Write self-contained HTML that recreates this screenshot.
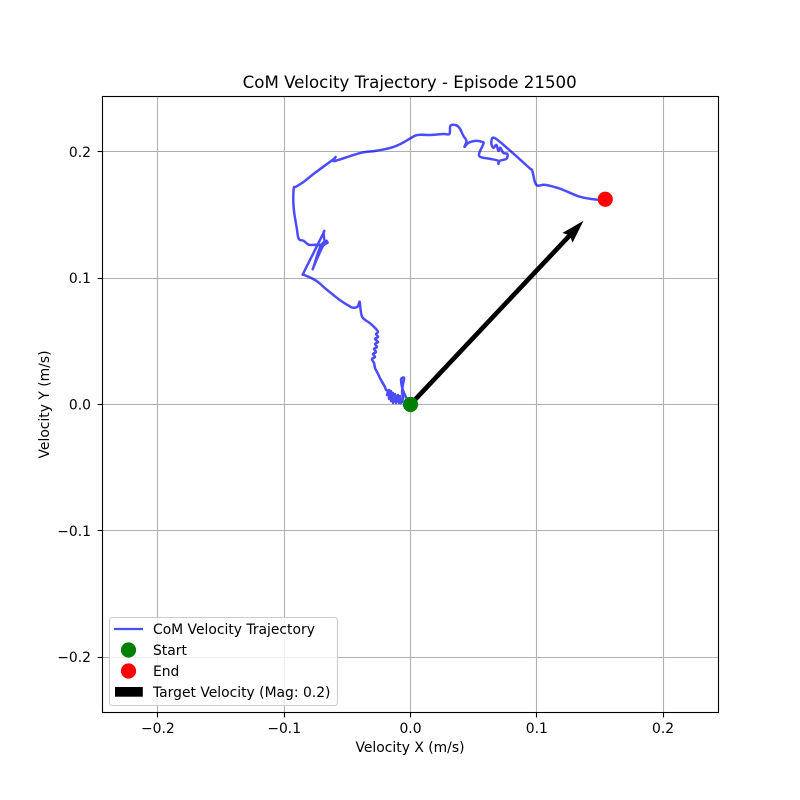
<!DOCTYPE html>
<html>
<head>
<meta charset="utf-8">
<title>CoM Velocity Trajectory</title>
<style>
html,body{margin:0;padding:0;background:#fff}
svg{display:block}
text{font-family:"DejaVu Sans",sans-serif;fill:#000}
</style>
</head>
<body>
<svg id="chart" xmlns="http://www.w3.org/2000/svg" width="800" height="800" viewBox="0 0 800 800">
  <rect x="0" y="0" width="800" height="800" fill="#fff"/>
  <g id="grid-layer"></g>
  <g id="arrow-layer"></g>
  <g id="series-layer"></g>
  <rect x="102.5" y="96.5" width="616" height="616" fill="none" stroke="#000" stroke-width="1.1"/>
  <g id="tick-layer"></g>
  <text x="409.7" y="88" font-size="16.64" text-anchor="middle">CoM Velocity Trajectory - Episode 21500</text>
  <text x="410" y="752" font-size="13.89" text-anchor="middle">Velocity X (m/s)</text>
  <text x="49" y="404.5" font-size="13.89" text-anchor="middle" transform="rotate(-90 49 404.5)">Velocity Y (m/s)</text>
  <g>
    <rect x="109.5" y="617.5" width="228" height="88" rx="3" ry="3" fill="#fff" fill-opacity="0.8" stroke="#ccc" stroke-width="1.1"/>
    <line x1="114" y1="629" x2="143" y2="629" stroke="#0000ff" stroke-opacity="0.7" stroke-width="2.2"/>
    <text x="153" y="634" font-size="13.89">CoM Velocity Trajectory</text>
    <circle cx="128.5" cy="650" r="7.6" fill="#008000"/>
    <text x="153" y="655" font-size="13.89">Start</text>
    <circle cx="128.5" cy="671" r="7.6" fill="#ff0000"/>
    <text x="153" y="676" font-size="13.89">End</text>
    <rect x="115" y="687" width="27.8" height="9.7" fill="#000"/>
    <text x="153" y="697" font-size="13.89">Target Velocity (Mag: 0.2)</text>
  </g>
</svg>
<script>
const xTicks = [-0.2, -0.1, 0, 0.1, 0.2];
const yTicks = [-0.2, -0.1, 0, 0.1, 0.2];
const tickLabels = ["\u22120.2", "\u22120.1", "0.0", "0.1", "0.2"];
const target = [0.137, 0.1455];
const vx = [0,-.0028,-.0051,-.0067,-.0075,-.0067,-.0051,-.0059,-.0067,-.0059,-.0075,-.0083,-.0091,-.0099,-.0115,-.0123,-.0139,-.0139,-.0154,-.0154,-.0170,-.0170,-.0186,-.0178,-.0194,-.0202,-.0226,-.0210,-.0242,-.0257,-.0273,-.0281,-.0289,-.0305,-.0281,-.0297,-.0273,-.0289,-.0265,-.0281,-.0257,-.0281,-.0257,-.0273,-.0257,-.0273,-.0316,-.0379,-.0395,-.0403,-.0419,-.0458,-.0490,-.0553,-.0672,-.0735,-.0791,-.0846,-.0846,-.0767,-.0688,-.0688,-.0680,-.0656,-.0696,-.0767,-.0767,-.0711,-.0664,-.0696,-.0751,-.0806,-.0846,-.0885,-.0901,-.0925,-.0925,-.0909,-.0846,-.0767,-.0617,-.0593,-.0609,-.0569,-.0395,-.0277,-.0158,-.0079,-.0008,.0055,.0158,.0261,.0308,.0316,.0356,.0387,.0419,.0443,.0427,.0458,.0514,.0569,.0577,.0545,.0553,.0632,.0696,.0696,.0704,.0759,.0767,.0735,.0711,.0696,.0680,.0656,.0640,.0664,.0791,.0941,.0964,.0996,.1067,.1186,.1344,.1486,.1542];
const vy = [0,.0044,.0091,.0139,.0194,.0210,.0210,.0162,.0099,.0051,.0012,.0067,.0012,.0075,.0012,.0083,.0012,.0091,.0028,.0107,.0044,.0115,.0075,.0107,.0115,.0139,.0178,.0154,.0210,.0242,.0273,.0289,.0329,.0360,.0376,.0400,.0416,.0440,.0455,.0479,.0495,.0519,.0535,.0558,.0574,.0598,.0640,.0688,.0751,.0814,.0775,.0767,.0783,.0822,.0917,.0972,.1004,.1028,.1043,.1202,.1360,.1360,.1296,.1281,.1249,.1091,.1091,.1257,.1296,.1265,.1265,.1265,.1296,.1312,.1399,.1557,.1708,.1723,.1763,.1826,.1937,.1960,.1929,.1937,.1992,.2008,.2032,.2063,.2103,.2134,.2134,.2142,.2142,.2206,.2213,.2190,.2127,.2087,.2040,.2071,.2087,.2079,.2063,.1992,.1960,.1945,.1929,.1905,.1929,.1945,.1984,.1992,.2032,.2008,.2055,.2032,.2071,.2111,.2008,.1873,.1850,.1739,.1739,.1708,.1644,.1621,.1625];

const NS = "http://www.w3.org/2000/svg";
const centerX = 410.5, centerY = 404.5, pxPerUnit = 1263;
function sx(v) { return centerX + v * pxPerUnit; }
function sy(v) { return centerY - v * pxPerUnit; }
function snap(p) { return Math.floor(p) + 0.5; }
function svgEl(tag) { return document.createElementNS(NS, tag); }

const gridLayer = document.getElementById("grid-layer");
const tickLayer = document.getElementById("tick-layer");
const seriesLayer = document.getElementById("series-layer");
const arrowLayer = document.getElementById("arrow-layer");

xTicks.forEach(function (t, i) {
  const p = snap(sx(t));
  const g = svgEl("line");
  
  
  g.setAttribute("x1", p); g.setAttribute("x2", p);
  g.setAttribute("y1", 96.5); g.setAttribute("y2", 712.5);
  g.setAttribute("stroke", "#b0b0b0"); g.setAttribute("stroke-width", "1.1");
  gridLayer.appendChild(g);
  const k = svgEl("line");
  
  
  k.setAttribute("x1", p); k.setAttribute("x2", p);
  k.setAttribute("y1", 712.5); k.setAttribute("y2", 717.4);
  k.setAttribute("stroke", "#000"); k.setAttribute("stroke-width", "1.1");
  tickLayer.appendChild(k);
  const l = svgEl("text");
  
  
  l.setAttribute("x", sx(t)); l.setAttribute("y", 733);
  l.setAttribute("font-size", "13.89"); l.setAttribute("text-anchor", "middle");
  l.textContent = tickLabels[i];
  tickLayer.appendChild(l);
});

yTicks.forEach(function (t, i) {
  const p = snap(sy(t));
  const g = svgEl("line");
  
  
  g.setAttribute("x1", 102.5); g.setAttribute("x2", 718.5);
  g.setAttribute("y1", p); g.setAttribute("y2", p);
  g.setAttribute("stroke", "#b0b0b0"); g.setAttribute("stroke-width", "1.1");
  gridLayer.appendChild(g);
  const k = svgEl("line");
  
  
  k.setAttribute("x1", 97.6); k.setAttribute("x2", 102.5);
  k.setAttribute("y1", p); k.setAttribute("y2", p);
  k.setAttribute("stroke", "#000"); k.setAttribute("stroke-width", "1.1");
  tickLayer.appendChild(k);
  const l = svgEl("text");
  
  
  l.setAttribute("x", 91); l.setAttribute("y", sy(t) + 5);
  l.setAttribute("font-size", "13.89"); l.setAttribute("text-anchor", "end");
  l.textContent = tickLabels[i];
  tickLayer.appendChild(l);
});

(function drawArrow() {
  const x0 = sx(0), y0 = sy(0), x1 = sx(target[0]), y1 = sy(target[1]);
  const len = Math.hypot(x1 - x0, y1 - y0);
  const ux = (x1 - x0) / len, uy = (y1 - y0) / len;
  const nx = -uy, ny = ux;
  const w = 4.7;
  function pt(a, b) { return (x0 + ux * a + nx * b).toFixed(2) + "," + (y0 + uy * a + ny * b).toFixed(2); }
  const hl = w * 5, hal = w * 4.5, hw = w * 1.5;
  const pts = [pt(0, -w / 2), pt(len - hal, -w / 2), pt(len - hl, -hw), pt(len, 0), pt(len - hl, hw), pt(len - hal, w / 2), pt(0, w / 2)];
  const a = svgEl("polygon");
  
  
  a.setAttribute("points", pts.join(" "));
  a.setAttribute("fill", "#000");
  arrowLayer.appendChild(a);
})();

function smoothPath() {
  const p = vx.map(function (v, i) { return [sx(v), sy(vy[i])]; });
  let d = "M" + p[0][0].toFixed(2) + " " + p[0][1].toFixed(2);
  for (let i = 0; i < p.length - 1; i++) {
    const a = p[Math.max(i - 1, 0)], b = p[i], c = p[i + 1], e = p[Math.min(i + 2, p.length - 1)];
    const c1x = b[0] + (c[0] - a[0]) / 6, c1y = b[1] + (c[1] - a[1]) / 6;
    const c2x = c[0] - (e[0] - b[0]) / 6, c2y = c[1] - (e[1] - b[1]) / 6;
    d += "C" + c1x.toFixed(2) + " " + c1y.toFixed(2) + " " + c2x.toFixed(2) + " " + c2y.toFixed(2) + " " + c[0].toFixed(2) + " " + c[1].toFixed(2);
  }
  return d;
}

const path = svgEl("path");


path.setAttribute("d", smoothPath());
path.setAttribute("fill", "none");
path.setAttribute("stroke", "#0000ff");
path.setAttribute("stroke-opacity", "0.7");
path.setAttribute("stroke-width", "2.5");
path.setAttribute("stroke-linejoin", "round");
path.setAttribute("stroke-linecap", "round");
seriesLayer.appendChild(path);

const startDot = svgEl("circle");


startDot.setAttribute("cx", sx(vx[0]));
startDot.setAttribute("cy", sy(vy[0]));
startDot.setAttribute("r", "7.6");
startDot.setAttribute("fill", "#008000");
seriesLayer.appendChild(startDot);

const endDot = svgEl("circle");


endDot.setAttribute("cx", sx(vx[vx.length - 1]));
endDot.setAttribute("cy", sy(vy[vy.length - 1]));
endDot.setAttribute("r", "7.6");
endDot.setAttribute("fill", "#ff0000");
seriesLayer.appendChild(endDot);
</script>
</body>
</html>
